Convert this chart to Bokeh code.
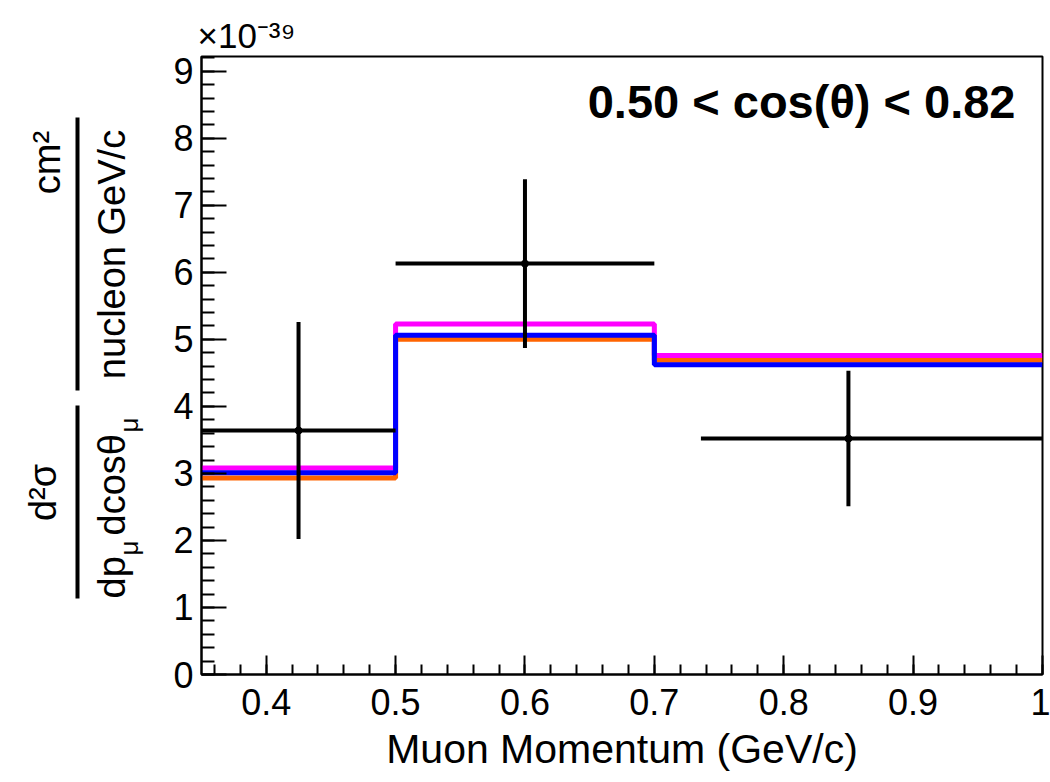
import math
from bokeh.plotting import figure
from bokeh.models import FixedTicker, Label, ColumnDataSource, Range1d
from bokeh.layouts import row
from bokeh.embed import file_html
from bokeh.resources import INLINE

# ---- data (values in units of 1e-39 cm^2 / nucleon GeV/c) ----
bin_edges = [0.35, 0.5, 0.7, 1.0]
data_x = [0.425, 0.6, 0.85]
data_y = [3.64, 6.13, 3.52]
data_err = [1.62, 1.26, 1.01]
data_xlo = [0.35, 0.5, 0.736]
data_xhi = [0.5, 0.7, 1.0]
model_orange = [2.93, 5.00, 4.69]
model_magenta = [3.08, 5.23, 4.76]
model_blue = [3.01, 5.06, 4.62]
x_ticks = [0.4, 0.5, 0.6, 0.7, 0.8, 0.9, 1.0]
x_tick_labels = ["0.4", "0.5", "0.6", "0.7", "0.8", "0.9", "1"]
y_ticks = [0, 1, 2, 3, 4, 5, 6, 7, 8, 9]
x_minor = [round(0.36 + 0.02 * i, 2) for i in range(33)]
y_minor = [round(0.2 * i, 1) for i in range(47)]

FONT = "Liberation Sans"
W, H = 1050, 782
LEFTW = 150     # width of the y-title panel
FL, FT, FB = 201, 56, 674  # frame left / top / bottom on the page

# ---------------- main plot ----------------
p = figure(width=W - LEFTW, height=H, x_range=(0.35, 1.0), y_range=(0, 9.22),
           output_backend="svg", toolbar_location=None,
           min_border_left=FL - LEFTW, min_border_right=8, min_border_top=FT,
           min_border_bottom=H - FB)
p.background_fill_color = "white"
p.border_fill_color = "white"
p.outline_line_color = "black"
p.outline_line_width = 2
p.grid.visible = False

# exponent of the y axis
p.title.text = "×10⁻³⁹"
p.title.text_font = FONT
p.title.text_font_size = "35px"
p.title.text_font_style = "normal"
p.title.text_color = "black"
p.title.align = "left"
p.title.offset = -4
p.title.standoff = 4

p.xaxis.ticker = FixedTicker(ticks=x_ticks, minor_ticks=x_minor)
p.xaxis.major_label_overrides = {t: l for t, l in zip(x_ticks, x_tick_labels)}
p.yaxis.ticker = FixedTicker(ticks=y_ticks, minor_ticks=y_minor)
for ax in (p.xaxis, p.yaxis):
    ax.axis_line_color = "black"
    ax.axis_line_width = 2
    ax.major_tick_line_width = 2
    ax.minor_tick_line_width = 2
    ax.major_tick_out = 0
    ax.minor_tick_out = 0
    ax.major_label_text_font = FONT
    ax.major_label_text_font_size = "36px"
    ax.major_label_text_color = "black"
p.xaxis.major_tick_in = 19
p.xaxis.minor_tick_in = 10
p.yaxis.major_tick_in = 25
p.yaxis.minor_tick_in = 13
p.xaxis.major_label_standoff = 14
p.yaxis.major_label_standoff = 8
p.xaxis.axis_label = "Muon Momentum (GeV/c)"
p.xaxis.axis_label_text_font = FONT
p.xaxis.axis_label_text_font_size = "41px"
p.xaxis.axis_label_text_font_style = "normal"
p.xaxis.axis_label_text_color = "black"
p.xaxis.axis_label_standoff = 8

# ---- model step histograms ----
def step_vals(v):
    return list(v) + [v[-1]]

p.step(x=bin_edges, y=step_vals(model_orange), mode="after", line_color="#ff6400", line_width=5)
p.step(x=bin_edges, y=step_vals(model_magenta), mode="after", line_color="#ff00ff", line_width=5)
p.step(x=bin_edges, y=step_vals(model_blue), mode="after", line_color="#0000ff", line_width=5)

# ---- data points with errors ----
src = ColumnDataSource(dict(x=data_x, y=data_y, xlo=data_xlo, xhi=data_xhi,
                            ylo=[y - e for y, e in zip(data_y, data_err)],
                            yhi=[y + e for y, e in zip(data_y, data_err)]))
p.segment(x0="xlo", x1="xhi", y0="y", y1="y", source=src, line_color="black", line_width=4)
p.segment(x0="x", x1="x", y0="ylo", y1="yhi", source=src, line_color="black", line_width=4)
p.scatter(x="x", y="y", source=src, size=7, color="black")

p.add_layout(Label(x=1015 - FL, y=FB - 101, x_units="screen", y_units="screen",
                   text="0.50 < cos(θ) < 0.82", text_align="right", text_baseline="middle",
                   text_font=FONT, text_font_size="47px", text_font_style="bold",
                   text_color="black"))

# ---------------- y-axis title panel ----------------
# its frame is aligned with the main frame: page y 56..674  <->  data y = H - y
yl = figure(width=LEFTW, height=H, x_range=Range1d(0, LEFTW), y_range=Range1d(H - FB, H - FT),
            output_backend="svg", toolbar_location=None, title=None,
            x_axis_type=None, y_axis_type=None,
            min_border_left=0, min_border_right=0, min_border_top=FT,
            min_border_bottom=H - FB)
yl.outline_line_color = None
yl.background_fill_color = "white"
yl.border_fill_color = "white"


def lab(text, cx, cy, size, align="left", baseline="alphabetic"):
    yl.add_layout(Label(x=cx, y=H - cy, text=text, angle=math.pi / 2,
                        text_align=align, text_baseline=baseline,
                        text_font=FONT, text_font_size=f"{size}px", text_color="black"))


lab("d²σ", 42, 492, 38, align="center", baseline="middle")
lab("dp", 111, 598, 38)
lab("μ", 128, 555, 26)
lab("dcosθ", 111, 535, 38)
lab("μ", 128, 432, 26)
lab("cm²", 46, 162, 38, align="center", baseline="middle")
lab("nucleon GeV/c", 111, 254, 38, align="center")
# fraction bars
yl.quad(left=[75, 75], right=[79, 79], top=[H - 117, H - 405], bottom=[H - 390, H - 598],
        fill_color="black", line_color=None)

layout = row(yl, p, spacing=0)
open("out.html", "w").write(file_html(layout, INLINE))
